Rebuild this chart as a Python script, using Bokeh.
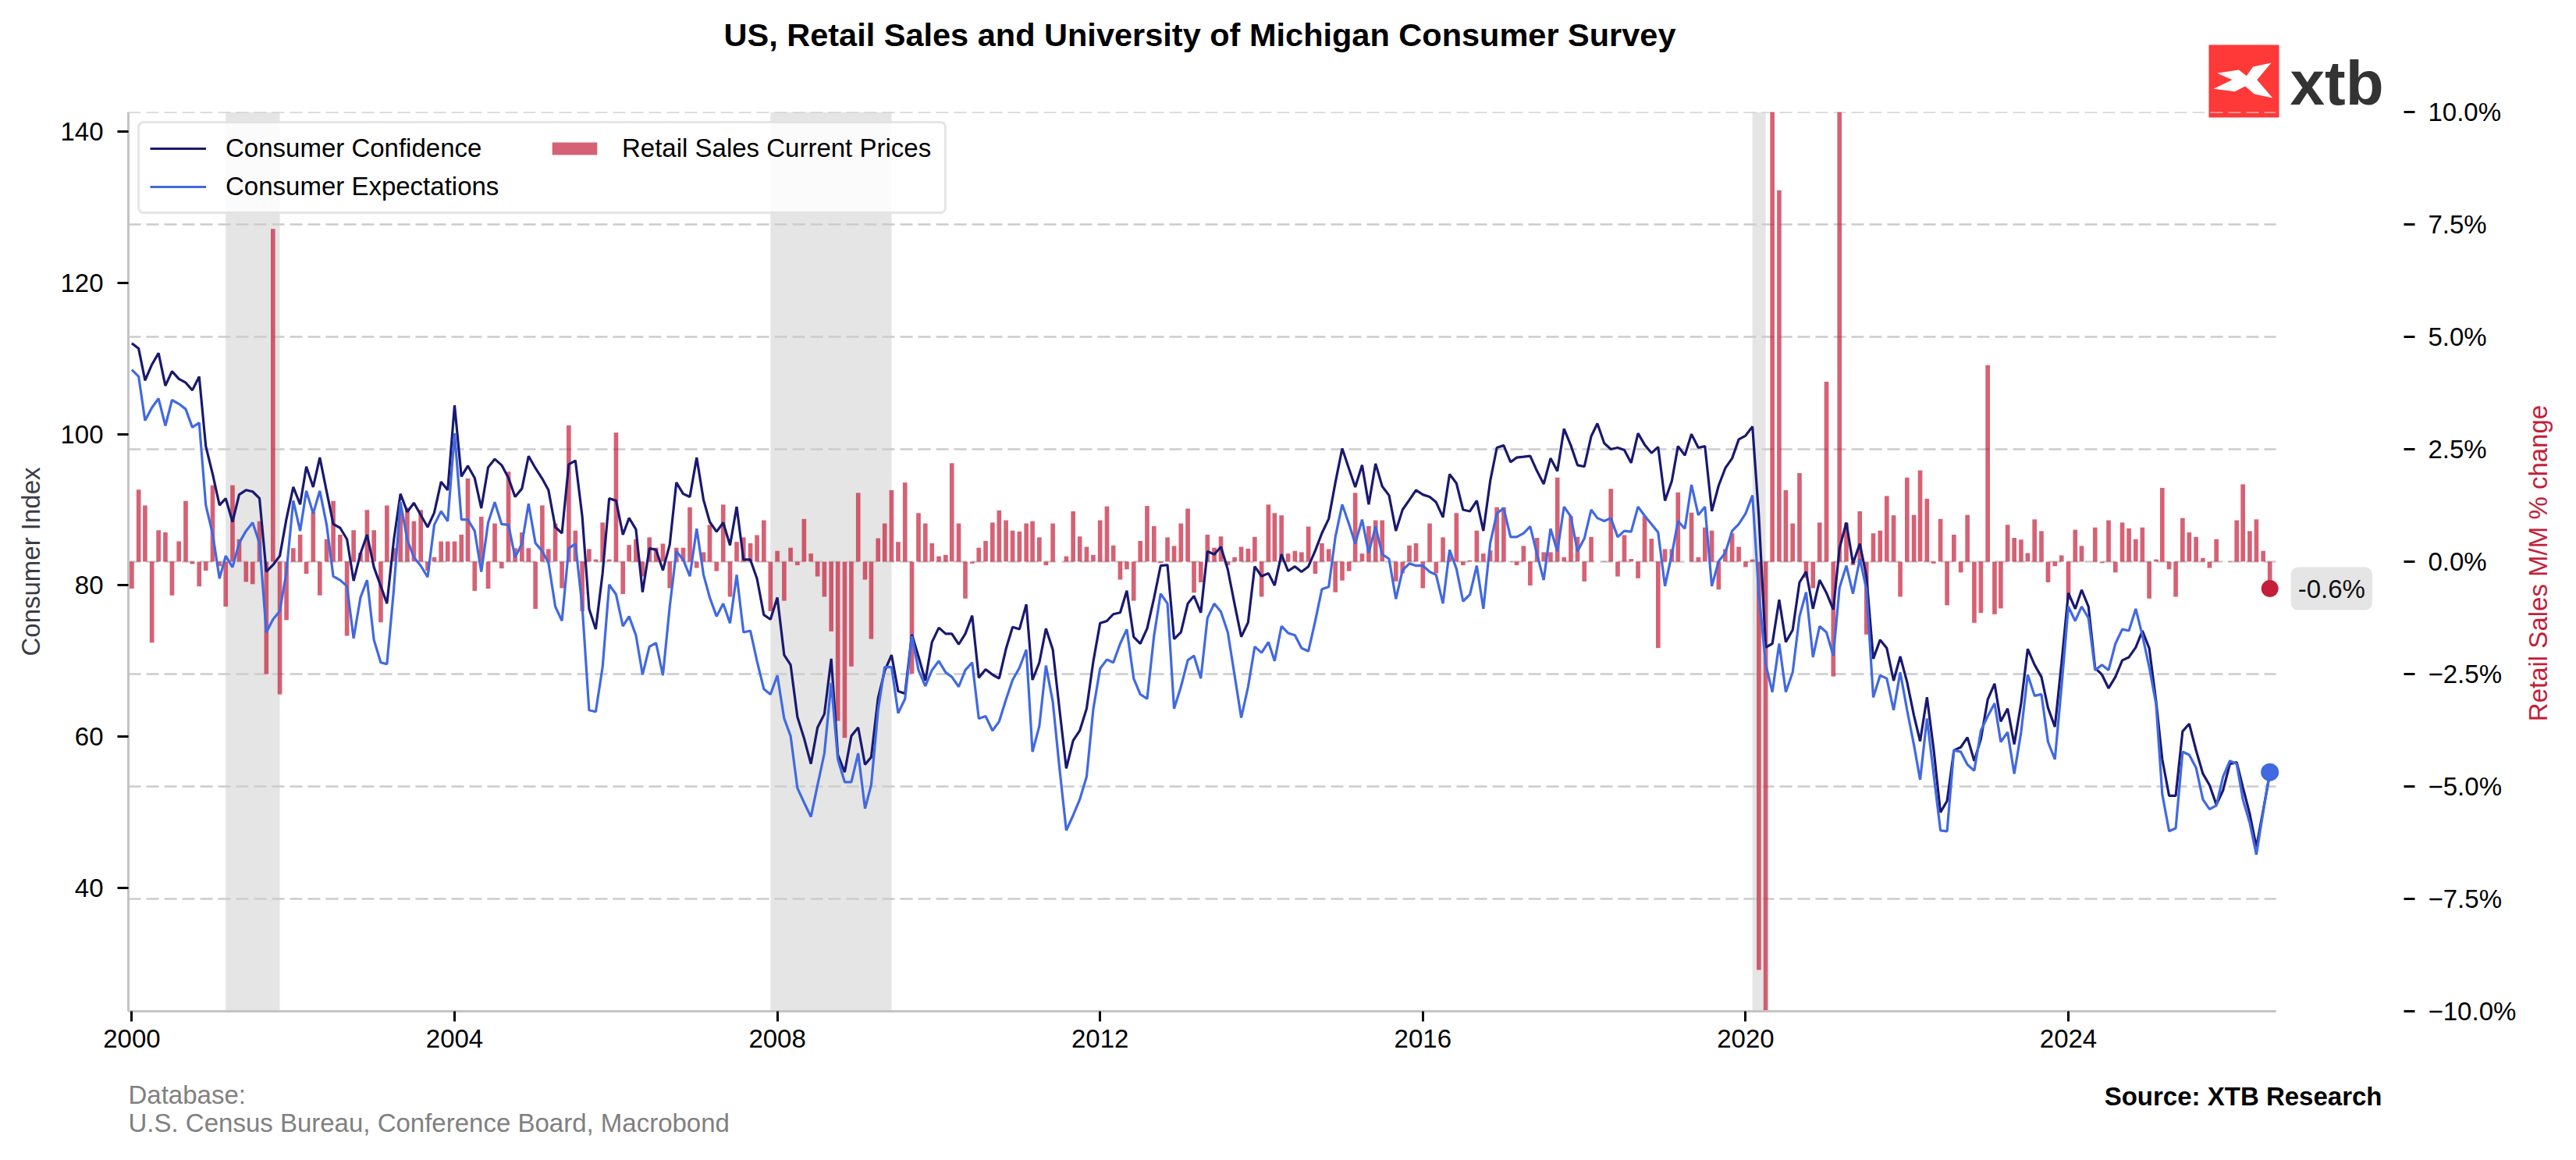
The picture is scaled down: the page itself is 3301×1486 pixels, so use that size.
import math
import pandas as pd
from bokeh.plotting import figure
from bokeh.layouts import column, row
from bokeh.embed import file_html
from bokeh.resources import INLINE
from bokeh.models import (ColumnDataSource, Range1d, LinearAxis, FixedTicker,
                          DatetimeTickFormatter, CustomJSTickFormatter, Legend,
                          LegendItem, BoxAnnotation, Label)

# monthly observations, Jan 2000 - Jul 2026
months = pd.date_range("2000-01-01", "2026-07-01", freq="MS")

consumer_confidence = [
    112.0, 111.3, 107.1, 109.2, 110.7, 106.4, 108.3, 107.3, 106.8, 105.8, 107.6, 98.4,
    94.7, 90.6, 91.5, 88.4, 92.0, 92.6, 92.4, 91.5, 81.8, 82.7, 83.9, 88.8,
    93.0, 90.7, 95.7, 93.0, 96.9, 92.4, 88.1, 87.6, 86.1, 80.6, 84.2, 86.7,
    82.4, 79.9, 77.6, 86.0, 92.1, 89.7, 90.9, 89.3, 87.7, 89.6, 93.7, 92.6,
    103.8, 94.4, 95.8, 94.2, 90.2, 95.6, 96.7, 95.9, 94.2, 91.7, 92.8, 97.1,
    95.5, 94.1, 92.6, 87.7, 86.9, 96.0, 96.5, 89.1, 76.9, 74.2, 81.6, 91.5,
    91.2, 86.7, 88.9, 87.4, 79.1, 84.9, 84.7, 82.0, 85.4, 93.6, 92.1, 91.7,
    96.9, 91.3, 88.4, 87.1, 88.3, 85.3, 90.4, 83.4, 83.4, 80.9, 76.1, 75.5,
    78.4, 70.8, 69.5, 62.6, 59.8, 56.4, 61.2, 63.0, 70.3, 57.6, 55.3, 60.1,
    61.2, 56.3, 57.3, 65.1, 68.7, 70.8, 66.0, 65.7, 73.5, 70.6, 67.4, 72.5,
    74.4, 73.6, 73.6, 72.2, 73.6, 76.0, 67.8, 68.9, 68.2, 67.7, 71.6, 74.5,
    74.2, 77.5, 67.5, 69.8, 74.3, 71.5, 63.7, 55.8, 59.5, 60.8, 63.7, 69.9,
    75.0, 75.3, 76.2, 76.4, 79.3, 73.2, 72.3, 74.3, 78.3, 82.6, 82.7, 72.9,
    73.8, 77.6, 78.6, 76.4, 84.5, 84.1, 85.1, 82.1, 77.5, 73.2, 75.1, 82.5,
    81.2, 81.6, 80.0, 84.1, 81.9, 82.5, 81.8, 82.5, 84.6, 86.9, 88.8, 93.6,
    98.1, 95.4, 93.0, 95.9, 90.7, 96.1, 93.1, 91.9, 87.2, 90.0, 91.3, 92.6,
    92.0, 91.7, 91.0, 89.0, 94.7, 93.5, 90.0, 89.8, 91.2, 87.2, 93.8, 98.2,
    98.5, 96.3, 96.9, 97.0, 97.1, 95.1, 93.4, 96.8, 95.1, 100.7, 98.5, 95.9,
    95.7, 99.7, 101.4, 98.8, 98.0, 98.2, 97.9, 96.2, 100.1, 98.6, 97.5, 98.3,
    91.2, 93.8, 98.4, 97.2, 100.0, 98.2, 98.4, 89.8, 93.2, 95.5, 96.8, 99.3,
    99.8, 101.0, 89.1, 71.8, 72.3, 78.1, 72.5, 74.1, 80.4, 81.8, 76.9, 80.7,
    79.0, 76.8, 84.9, 88.3, 82.9, 85.5, 81.2, 70.3, 72.8, 71.7, 67.4, 70.6,
    67.2, 62.8, 59.4, 65.2, 58.4, 50.0, 51.5, 58.2, 58.6, 59.9, 56.8, 59.7,
    64.9, 67.0, 62.0, 63.7, 59.0, 64.4, 71.6, 69.5, 67.9, 63.8, 61.3, 69.7,
    79.0, 76.9, 79.4, 77.2, 69.1, 68.2, 66.4, 67.9, 70.1, 70.5, 71.8, 74.0,
    71.7, 64.7, 57.0, 52.2, 52.2, 60.7, 61.7, 58.2, 55.1, 53.6, 51.0, 52.9,
    56.4, 56.6, 53.3, 49.8, 45.4, 50.3, 55.1,
]

consumer_expectations = [
    108.5, 107.6, 101.8, 103.5, 104.7, 101.1, 104.5, 104.0, 103.3, 100.9, 101.5, 90.6,
    86.8, 80.9, 83.9, 82.4, 85.6, 87.2, 88.3, 85.6, 73.8, 75.5, 76.6, 81.8,
    91.2, 87.2, 92.5, 89.5, 92.5, 88.0, 81.2, 80.7, 79.9, 73.0, 78.4, 80.7,
    72.8, 69.8, 69.6, 79.5, 91.0, 86.0, 83.7, 82.6, 81.1, 88.0, 89.8, 88.5,
    100.1, 88.7, 88.7, 87.2, 81.8, 88.3, 91.0, 88.1, 88.0, 83.7, 85.5, 90.8,
    85.6, 84.5, 83.0, 77.2, 75.3, 84.9, 85.5, 77.2, 63.5, 63.3, 69.2, 80.1,
    78.8, 74.6, 75.9, 73.4, 68.2, 71.9, 72.4, 68.1, 77.2, 84.5, 83.4, 81.2,
    87.5, 81.4, 78.4, 75.9, 77.6, 75.0, 81.4, 73.8, 74.0, 70.0, 66.3, 65.6,
    68.1, 62.4, 60.1, 53.2, 51.3, 49.4, 53.6, 57.8, 67.1, 57.0, 54.0, 54.0,
    57.8, 50.5, 53.6, 63.5, 69.2, 69.2, 63.1, 65.0, 73.3, 68.8, 66.7, 68.8,
    70.0, 68.5, 67.9, 66.6, 68.8, 69.8, 62.4, 62.7, 60.8, 62.0, 64.9, 67.5,
    69.1, 71.5, 58.0, 61.4, 69.4, 64.6, 55.9, 47.6, 49.6, 51.7, 54.7, 63.6,
    69.0, 70.2, 69.8, 72.3, 74.2, 67.7, 65.6, 65.0, 73.3, 78.9, 77.6, 63.7,
    66.6, 70.1, 70.7, 67.7, 75.7, 77.6, 76.5, 73.8, 68.1, 62.5, 66.6, 71.9,
    71.1, 72.5, 70.0, 74.6, 73.7, 73.4, 71.7, 71.3, 75.3, 79.5, 79.8, 86.4,
    90.7, 88.1, 85.5, 88.7, 84.3, 87.8, 84.1, 83.5, 78.2, 82.0, 82.9, 82.6,
    82.6, 81.8, 81.4, 77.6, 84.7, 82.2, 77.9, 78.8, 82.6, 76.9, 85.6, 89.5,
    90.2, 86.4, 86.4, 86.9, 87.8, 84.1, 80.7, 87.5, 84.5, 90.4, 89.1, 84.5,
    86.2, 90.0, 88.9, 88.5, 88.9, 86.4, 87.2, 87.1, 90.4, 89.2, 88.1, 87.0,
    79.9, 84.1, 88.5, 87.5, 93.3, 89.3, 90.4, 79.9, 83.2, 84.3, 87.2, 88.1,
    89.5, 91.9, 78.9, 69.6, 65.9, 72.3, 65.9, 68.5, 75.9, 79.1, 70.5, 74.6,
    73.8, 70.7, 79.7, 82.6, 78.9, 83.5, 79.5, 65.2, 68.1, 67.7, 63.5, 68.5,
    63.5, 58.9, 54.3, 62.4, 55.1, 47.6, 47.5, 58.2, 58.0, 56.3, 55.5, 60.8,
    62.7, 64.4, 59.3, 60.6, 55.1, 60.6, 68.2, 65.4, 65.6, 59.3, 57.0, 66.6,
    77.2, 75.3, 77.2, 75.7, 68.8, 69.5, 68.8, 72.3, 74.2, 74.0, 76.9, 73.4,
    69.2, 64.3, 52.4, 47.5, 47.9, 58.0, 57.6, 55.9, 51.7, 50.4, 50.9, 54.7,
    56.8, 56.4, 51.7, 48.6, 44.4, 50.1, 55.3,
]

retail_sales = [
    -0.6, 1.6, 1.25, -1.8, 0.7, 0.65, -0.75, 0.45, 1.35, -0.05, -0.55, -0.2,
    1.7, -0.1, -1.0, 1.7, 0.5, -0.45, -0.5, 0.9, -2.5, 7.4, -2.95, -1.3,
    0.3, 0.6, -0.27, 1.1, -0.75, 0.5, 1.35, 0.6, -1.65, 0.7, 0.2, 1.15,
    0.7, -1.35, 1.25, 0.3, 1.2, 1.2, 0.9, 1.15, -0.2, 0.1, 0.45, 0.45,
    0.45, 0.6, 1.85, -0.65, 1.0, -0.6, 0.85, -0.15, 2.0, 0.3, 0.65, 0.3,
    -1.05, 1.25, 0.28, 0.85, -0.59, 3.03, 0.69, -1.1, 0.28, 0.05, 0.87, 0.05,
    2.87, -0.72, 0.37, 0.5, -0.33, 0.54, 0.31, 0.4, -0.59, 0.31, 0.31, 1.21,
    -0.14, 0.21, 0.82, -0.21, 1.27, -0.78, 0.44, 0.54, 0.41, 0.59, 0.92, -1.1,
    0.24, -0.87, 0.31, -0.08, 0.95, 0.18, -0.33, -0.78, -1.55, -3.54, -3.92, -2.33,
    1.53, -0.4, -1.72, 0.52, 0.85, 1.59, 0.44, 1.76, -2.49, 1.08, 0.85, 0.41,
    0.12, 0.15, 2.19, 0.85, -0.82, -0.04, 0.31, 0.46, 0.87, 1.14, 0.92, 0.69,
    0.67, 0.85, 0.9, 0.54, -0.08, 0.85, 0.0, 0.12, 1.12, 0.56, 0.33, 0.15,
    0.92, 1.23, 0.36, -0.4, -0.17, -0.87, 0.46, 1.24, 0.79, -0.03, 0.54, 0.35,
    0.85, 1.18, -0.69, -0.46, 0.6, 0.31, 0.56, -0.08, 0.1, 0.33, 0.29, 0.55,
    -0.78, 1.27, 1.08, 1.03, 0.18, 0.24, 0.21, 0.78, -0.27, 0.41, 0.28, -0.68,
    -0.42, -0.21, 1.53, 0.18, 0.79, 0.92, 0.92, 0.0, -0.44, -0.26, 0.36, 0.41,
    -0.59, 0.85, -0.26, 0.54, 0.12, 1.08, -0.08, 0.03, 0.69, 0.18, 0.25, 1.21,
    1.21, -0.01, -0.08, 0.35, -0.53, 0.53, 0.21, 0.21, 1.87, 0.1, 1.01, 0.55,
    -0.44, 0.55, 0.0, 0.01, 1.62, -0.33, 0.59, 0.06, -0.37, 1.01, 0.51, -1.92,
    0.28, 0.28, 1.54, 0.0, 1.09, 0.1, 0.76, 0.69, -0.62, 0.28, 0.63, 0.33,
    -0.12, 0.05, -9.08, -14.7, 18.2, 8.26, 1.59, 0.85, 1.97, -0.36, -0.59, 0.87,
    4.0, -2.55, 10.7, 0.86, -0.08, 1.12, -1.62, 0.63, 0.69, 1.46, 1.03, -0.78,
    1.87, 1.04, 2.03, 1.4, -0.04, 0.95, -0.97, 0.6, -0.24, 1.04, -1.36, -1.14,
    4.37, -1.17, -1.04, 0.82, 0.53, 0.49, 0.19, 0.94, 0.68, -0.46, -0.1, 0.14,
    -0.85, 0.71, 0.35, 0.0, 0.76, -0.03, 0.92, -0.24, 0.87, 0.74, 0.5, 0.76,
    -0.82, 0.05, 1.64, -0.17, -0.78, 0.97, 0.65, 0.55, 0.08, -0.14, 0.5, 0.0,
    0.01, 0.92, 1.72, 0.68, 0.94, 0.24, -0.6,
]

recession_start = ["2001-03-01", "2007-12-01", "2020-02-01"]
recession_end = ["2001-11-01", "2009-06-01", "2020-04-01"]

year_ticks = [2000, 2004, 2008, 2012, 2016, 2020, 2024]
index_ticks = [40, 60, 80, 100, 120, 140]
pct_ticks = [-10, -7.5, -5, -2.5, 0, 2.5, 5, 7.5, 10]

assert len(months) == len(consumer_confidence) == len(consumer_expectations) == len(retail_sales)

FONT = "Liberation Sans"
NAVY = "#191970"
BLUE = "#4169e1"
RED = "#c41e3a"
W = 3296            # page width used
PW = 3232           # main chart canvas width
FL, FR = 164, 3080  # frame left / right on the page
TOP = 123           # page y where the chart canvas starts
PH = 1247           # chart canvas height

DAY_MS = 86400000
YEAR_MS = 365.25 * DAY_MS
T0 = pd.Timestamp("2000-01-01").value / 1e6


def ms(ts):
    return pd.Timestamp(ts).value / 1e6


# page pixel -> axis value, used only to size the ranges to the frame
def px_x(x):
    return T0 + (x - 168.4) / 103.4 * YEAR_MS


def px_y(y):
    return 140 - (y - 168) / 9.69


def blank(height, **kw):
    # a strip drawn in page pixels, same frame columns as the chart
    f = figure(width=W, height=height, x_range=Range1d(FL, FR), y_range=Range1d(height, 0),
               x_axis_location=None, y_axis_location=None, toolbar_location=None,
               tools="", output_backend="svg", min_border_left=FL,
               min_border_right=W - FR, min_border_top=0, min_border_bottom=0,
               outline_line_color=None, background_fill_color="white",
               border_fill_color="white", **kw)
    f.xgrid.visible = False
    f.ygrid.visible = False
    return f


# ---- header: title and logo
head = blank(152, margin=(0, 0, TOP - 152, 0))
head.add_layout(Label(x=1537, y=44,
                      text="US, Retail Sales and University of Michigan Consumer Survey",
                      text_align="center", text_baseline="middle", text_font=FONT,
                      text_font_size="41.5px", text_font_style="bold", text_color="black"))
head.quad(left=[2830], right=[2920], top=[57], bottom=[150], fill_color="#ff3838",
          line_color=None)
head.patch([2840.7, 2868.3, 2878.3, 2886.7, 2910.0, 2891.7, 2911.7, 2888.3, 2876.7,
            2863.3, 2836.0, 2860.0],
           [93.3, 89.0, 96.7, 85.0, 80.0, 101.7, 125.0, 120.0, 110.0, 116.7, 113.3, 101.7],
           fill_color="white", line_color=None)
head.add_layout(Label(x=2934, y=106, text="xtb", text_font=FONT, text_font_size="80px",
                      text_font_style="bold", text_color="#333333",
                      text_baseline="alphabetic"))

# ---- main chart
x_start, x_end, data_end = px_x(FL), px_x(FR), px_x(2916)

p = figure(width=PW, height=PH, x_axis_type="datetime",
           x_range=Range1d(x_start, x_end), y_range=Range1d(px_y(1295), px_y(143)),
           toolbar_location=None, tools="", output_backend="svg",
           min_border_left=FL, min_border_right=PW - FR, min_border_top=143 - TOP,
           min_border_bottom=TOP + PH - 1295, outline_line_color=None,
           background_fill_color=None, border_fill_color=None)
p.extra_y_ranges = {"rs": Range1d(-10, 10)}
p.xgrid.visible = False
p.ygrid.visible = False

for s, e in zip(recession_start, recession_end):
    p.add_layout(BoxAnnotation(left=ms(s), right=ms(e), fill_color="#e5e5e5",
                               fill_alpha=1.0, line_color=None, level="underlay"))

# dashed grid following the right-hand axis
p.segment(x0=[x_start] * len(pct_ticks), x1=[data_end] * len(pct_ticks),
          y0=pct_ticks, y1=pct_ticks, y_range_name="rs",
          line_color="#cccccc", line_width=2.5, line_dash="16 7")

src = ColumnDataSource(dict(date=months, conf=consumer_confidence,
                            exp=consumer_expectations, rs=retail_sales))

bars = p.vbar(x="date", top="rs", width=20 * DAY_MS, source=src, y_range_name="rs",
              fill_color=RED, fill_alpha=0.7, line_color=None)
l_conf = p.line("date", "conf", source=src, line_color=NAVY, line_width=3.2)
l_exp = p.line("date", "exp", source=src, line_color=BLUE, line_width=3.2)

last = ColumnDataSource(dict(date=months[-1:], rs=retail_sales[-1:],
                             exp=consumer_expectations[-1:]))
p.scatter("date", "rs", source=last, y_range_name="rs", size=22,
          fill_color=RED, line_color=None)
p.scatter("date", "exp", source=last, size=23, fill_color=BLUE, line_color=None)

p.add_layout(Label(x=ms(months[-1]), y=retail_sales[-1], y_range_name="rs", x_offset=27,
                   text=f"{retail_sales[-1]:.1f}%", text_font=FONT, text_font_size="33px",
                   text_color="#111111", text_baseline="middle", text_align="left",
                   background_fill_color="#e5e5e5", padding=9, border_radius=9))

ax = p.xaxis[0]
ax.ticker = FixedTicker(ticks=[ms(f"{y}-01-01") for y in year_ticks])
ax.formatter = DatetimeTickFormatter(years="%Y", months="%Y", days="%Y")
ax.bounds = (x_start, data_end)

ay = p.yaxis[0]
ay.ticker = FixedTicker(ticks=index_ticks)
ay.axis_label = "Consumer Index"
ay.axis_label_text_color = "#3c3c44"
ay.axis_label_standoff = 16

ar = LinearAxis(y_range_name="rs", ticker=FixedTicker(ticks=pct_ticks),
                formatter=CustomJSTickFormatter(
                    code="return (tick < 0 ? '\\u2212' : '') + Math.abs(tick).toFixed(1) + '%';"))
p.add_layout(ar, "right")

for a in (ax, ay, ar):
    a.major_label_text_font = FONT
    a.major_label_text_font_size = "33px"
    a.major_label_text_color = "black"
    a.axis_label_text_font = FONT
    a.axis_label_text_font_size = "33px"
    a.axis_label_text_font_style = "normal"
    a.major_tick_line_color = "black"
    a.major_tick_line_width = 3
    a.major_tick_in = 0
    a.minor_tick_line_color = None
    a.axis_line_color = "#c4c4c4"
    a.axis_line_width = 3
ax.major_tick_out = 13
ax.major_label_standoff = 10
ay.major_tick_out = 14
ay.major_label_standoff = 18
ar.major_tick_out = 14
ar.major_label_standoff = 17
ar.axis_line_color = None

legend = Legend(items=[LegendItem(label="Consumer Confidence", renderers=[l_conf]),
                       LegendItem(label="Consumer Expectations", renderers=[l_exp]),
                       LegendItem(label="Retail Sales Current Prices", renderers=[bars])],
                location="top_left", orientation="vertical", nrows=2, margin=12,
                padding=13, spacing=11, glyph_width=72, glyph_height=20,
                label_standoff=25, label_width=400, label_height=38,
                label_text_font=FONT, label_text_font_size="33px", label_text_color="black",
                border_line_color="#cccccc", border_line_width=3,
                background_fill_color="white", background_fill_alpha=0.85)
if "border_radius" in legend.properties():
    legend.border_radius = 8
p.add_layout(legend)

# ---- right-hand axis title, in its own strip so it can read upwards
side = figure(width=W - PW, height=PH, x_range=Range1d(PW, W), y_range=Range1d(1295, 143),
              x_axis_location=None, y_axis_location=None, toolbar_location=None, tools="",
              output_backend="svg", min_border_left=0, min_border_right=0,
              min_border_top=143 - TOP, min_border_bottom=TOP + PH - 1295,
              outline_line_color=None, background_fill_color="white",
              border_fill_color="white")
side.xgrid.visible = False
side.ygrid.visible = False
side.add_layout(Label(x=3252, y=721, text="Retail Sales M/M % change", angle=math.pi / 2,
                      text_align="center", text_baseline="middle", text_font=FONT,
                      text_font_size="33px", text_color=RED))

# ---- footer notes
foot = blank(110)
foot.add_layout(Label(x=FL, y=32, text="Database:", text_font=FONT, text_font_size="33px",
                      text_color="#808080", text_baseline="middle"))
foot.add_layout(Label(x=FL, y=68, text="U.S. Census Bureau, Conference Board, Macrobond",
                      text_font=FONT, text_font_size="33px", text_color="#808080",
                      text_baseline="middle"))
foot.add_layout(Label(x=3052, y=34, text="Source: XTB Research", text_font=FONT,
                      text_font_size="33px", text_font_style="bold", text_color="black",
                      text_align="right", text_baseline="middle"))

layout = column(head, row(p, side, spacing=0), foot, spacing=0)
open("out.html", "w").write(file_html(layout, INLINE))
